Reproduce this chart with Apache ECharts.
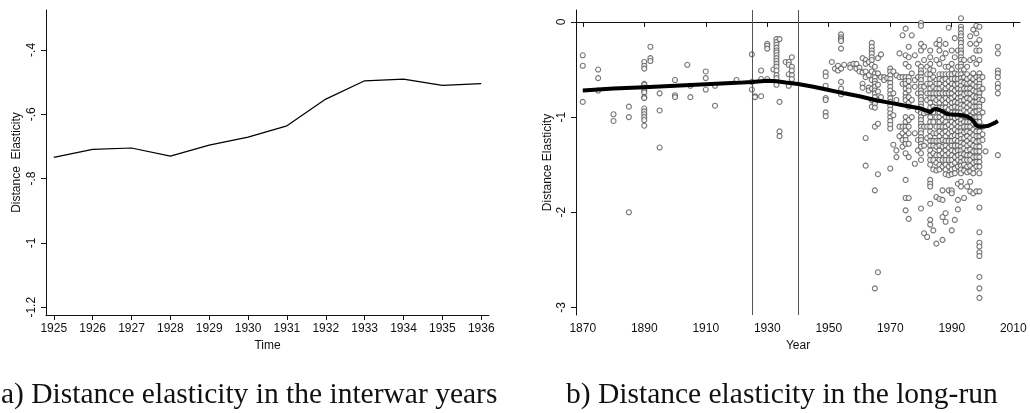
<!DOCTYPE html>
<html>
<head>
<meta charset="utf-8">
<script src="https://cdn.jsdelivr.net/npm/echarts@6/dist/echarts.min.js"></script>
<style>html,body{margin:0;padding:0;background:#fff}#c{width:1030px;height:413px}</style>
</head>
<body>
<div id="c"></div>
<script>
// Panel a: interwar years
const interwarYears = [1925,1926,1927,1928,1929,1930,1931,1932,1933,1934,1935,1936];
const interwarValues = [-0.734,-0.709,-0.705,-0.730,-0.696,-0.671,-0.636,-0.553,-0.496,-0.491,-0.510,-0.505];
const interwarYTicks = [-1.2,-1,-0.8,-0.6,-0.4];

// Panel b: long run, observations grouped by year
const obsYears = [1870,1875,1880,1885,1890,1892,1895,1900,1904,1905,1910,1913,1920,1925,1926,1928,1930,1932,1933,1934,1936,1937,1938,
  1949,1951,1952,1953,1954,1955,1957,1958,1959,1960,1961,1962,1963,1964,1965,1966,1967,1968,1969,
  1970,1971,1972,1973,1974,1975,1976,1977,1978,1979,1980,1981,1982,1983,1984,1985,1986,1987,1988,1989,
  1990,1991,1992,1993,1994,1995,1996,1997,1998,1999,2000,2001,2005];
const obsValues = [
  [-0.35,-0.46,-0.84],
  [-0.50,-0.59,-0.72],
  [-0.97,-1.04],
  [-0.89,-1.00,-2.00],
  [-0.42,-0.46,-0.49,-0.65,-0.66,-0.69,-0.72,-0.74,-0.79,-0.80,-0.91,-0.94,-0.97,-1.00,-1.03,-1.09],
  [-0.26,-0.38,-0.41],
  [-0.75,-0.93,-1.32],
  [-0.61,-0.77,-0.79],
  [-0.45],
  [-0.67,-0.79],
  [-0.52,-0.59,-0.71],
  [-0.67,-0.88],
  [-0.61],
  [-0.34,-0.63,-0.71],
  [-0.78,-0.79],
  [-0.51,-0.60,-0.78],
  [-0.23,-0.25,-0.28,-0.60],
  [-0.50],
  [-0.18,-0.21,-0.24,-0.27,-0.30,-0.32,-0.35,-0.38,-0.41,-0.44,-0.47,-0.51,-0.56,-0.59,-0.66],
  [-0.18,-0.84,-1.15,-1.20],
  [-0.42],
  [-0.42,-0.45,-0.55,-0.67],
  [-0.37,-0.47,-0.51,-0.56,-0.60],
  [-0.53,-0.57,-0.67,-0.80,-0.82,-0.95,-0.99],
  [-0.42],
  [-0.49],
  [-0.51,-0.46],
  [-0.13,-0.16,-0.18,-0.20,-0.28,-0.49,-0.63,-0.70,-0.76],
  [-0.45],
  [-0.45,-0.48],
  [-0.44],
  [-0.44,-0.49],
  [-0.48,-0.52],
  [-0.38,-0.53,-0.65,-0.69],
  [-0.40,-0.44,-0.52,-0.58,-1.22,-1.51],
  [-0.42,-0.56,-0.69,-0.72],
  [-0.22,-0.26,-0.30,-0.33,-0.37,-0.40,-0.45,-0.52,-0.61,-0.70,-0.82,-0.89],
  [-0.47,-0.54,-0.58,-0.62,-0.65,-0.68,-0.72,-0.75,-0.79,-0.83,-0.86,-0.90,-1.10,-1.77,-2.80],
  [-0.38,-0.54,-0.66,-0.73,-0.82,-1.07,-1.60,-2.63],
  [-0.34,-0.58,-0.79],
  [-0.58,-0.61],
  [-0.59],
  [-0.49,-0.52,-0.56,-0.60,-0.64,-0.68,-0.72,-0.76,-0.80,-0.84,-0.88,-0.92,-0.96,-1.00,-1.04,-1.08,-1.12,-1.54],
  [-0.52,-0.75,-0.98,-1.29],
  [-0.56,-0.82,-1.35,-1.42],
  [-0.33,-0.58,-1.10,-1.20],
  [-0.14,-0.58,-0.65,-1.10,-1.17,-1.24,-1.31],
  [-0.07,-0.35,-0.44,-0.58,-0.62,-0.65,-0.70,-0.75,-0.79,-0.82,-1.00,-1.05,-1.10,-1.14,-1.20,-1.24,-1.28,-1.38,-1.66,-1.85,-1.98],
  [-0.26,-0.37,-0.47,-0.58,-0.62,-0.68,-0.72,-0.79,-0.85,-0.89,-1.03,-1.10,-1.17,-1.28,-1.42,-1.85,-2.07],
  [-0.14,-0.54,-0.82,-1.00],
  [-0.35,-0.61,-0.68,-1.17,-1.49],
  [-0.44,-0.58,-0.75,-0.93,-1.24,-1.35],
  [-0.01,-0.04,-0.23,-0.30,-0.47,-0.51,-0.54,-0.58,-0.61,-0.65,-0.68,-0.72,-0.75,-0.79,-0.82,-0.86,-0.89,-0.93,-0.96,-1.00,-1.03,-1.07,-1.10,-1.14,-1.17,-1.21,-1.24,-1.28,-1.31,-1.38,-1.45,-1.96],
  [-0.26,-0.40,-0.68,-0.96,-1.10,-1.30,-2.22],
  [-0.47,-0.55,-0.65,-0.75,-0.82,-0.95,-1.10,-1.22,-2.26],
  [-0.30,-0.37,-0.44,-0.50,-0.55,-0.60,-0.65,-0.70,-0.75,-0.80,-0.85,-0.90,-0.95,-1.00,-1.05,-1.10,-1.15,-1.20,-1.25,-1.30,-1.35,-1.40,-1.45,-1.50,-1.66,-1.70,-1.73,-1.91,-2.08,-2.13],
  [-0.51,-0.58,-0.68,-0.75,-0.80,-0.89,-0.95,-1.05,-1.17,-1.25,-1.30,-1.38,-1.45,-1.55,-2.19],
  [-0.23,-0.40,-0.61,-0.65,-0.70,-0.75,-0.82,-0.90,-1.00,-1.10,-1.17,-1.25,-1.31,-1.40,-1.48,-1.56,-1.84,-2.33],
  [-0.19,-0.24,-0.30,-0.44,-0.55,-0.60,-0.65,-0.70,-0.75,-0.80,-0.85,-0.90,-0.95,-1.00,-1.05,-1.10,-1.15,-1.20,-1.25,-1.30,-1.35,-1.40,-1.45,-1.50,-1.55,-1.86],
  [-0.38,-0.55,-0.61,-0.68,-0.75,-0.82,-0.90,-0.97,-1.03,-1.10,-1.17,-1.24,-1.31,-1.38,-1.45,-1.52,-1.77,-1.87,-2.05,-2.29],
  [-0.23,-0.33,-0.47,-0.55,-0.60,-0.65,-0.70,-0.75,-0.80,-0.85,-0.90,-0.95,-1.00,-1.05,-1.10,-1.15,-1.20,-1.25,-1.30,-1.35,-1.40,-1.45,-1.50,-1.55,-1.60,-2.01,-2.10],
  [-0.06,-0.47,-0.55,-0.62,-0.68,-0.75,-0.82,-0.92,-1.00,-1.08,-1.17,-1.25,-1.32,-1.38,-1.45,-1.52,-1.61,-1.77],
  [-0.30,-0.44,-0.50,-0.55,-0.60,-0.65,-0.70,-0.75,-0.80,-0.85,-0.90,-0.95,-1.00,-1.05,-1.10,-1.15,-1.20,-1.25,-1.30,-1.35,-1.40,-1.45,-1.50,-1.55,-1.60,-1.77,-1.80,-2.19],
  [-0.17,-0.37,-0.54,-0.60,-0.66,-0.72,-0.78,-0.84,-0.89,-0.95,-1.01,-1.07,-1.13,-1.19,-1.24,-1.30,-1.36,-1.42,-1.48,-1.54,-1.59,-2.08],
  [-0.30,-0.47,-0.55,-0.60,-0.65,-0.70,-0.75,-0.80,-0.85,-0.90,-0.95,-1.00,-1.05,-1.10,-1.15,-1.20,-1.25,-1.30,-1.35,-1.40,-1.45,-1.52,-1.70,-1.87,-1.97],
  [0.04,-0.05,-0.08,-0.12,-0.15,-0.19,-0.22,-0.26,-0.30,-0.33,-0.37,-0.40,-0.44,-0.47,-0.51,-0.55,-0.59,-0.63,-0.67,-0.71,-0.75,-0.79,-0.83,-0.87,-0.91,-0.95,-0.99,-1.03,-1.07,-1.11,-1.15,-1.19,-1.23,-1.27,-1.31,-1.35,-1.39,-1.43,-1.47,-1.51,-1.55,-1.59,-1.68,-1.73],
  [-0.40,-0.50,-0.58,-0.64,-0.70,-0.76,-0.82,-0.88,-0.93,-0.99,-1.05,-1.10,-1.16,-1.22,-1.28,-1.33,-1.39,-1.45,-1.50,-1.56,-1.85],
  [-0.47,-0.55,-0.60,-0.65,-0.70,-0.75,-0.80,-0.85,-0.90,-0.95,-1.00,-1.05,-1.10,-1.15,-1.20,-1.25,-1.30,-1.35,-1.40,-1.45,-1.52,-1.58,-1.73],
  [-0.15,-0.23,-0.40,-0.58,-0.64,-0.70,-0.75,-0.81,-0.87,-0.93,-0.99,-1.05,-1.10,-1.16,-1.22,-1.28,-1.34,-1.40,-1.45,-1.51,-1.57,-1.68,-1.78],
  [-0.08,-0.38,-0.54,-0.60,-0.66,-0.72,-0.78,-0.84,-0.89,-0.95,-1.01,-1.07,-1.13,-1.19,-1.24,-1.30,-1.36,-1.42,-1.48,-1.54,-1.59,-1.80],
  [-0.04,-0.12,-0.23,-0.30,-0.44,-0.58,-0.63,-0.68,-0.73,-0.79,-0.84,-0.89,-0.94,-1.00,-1.05,-1.10,-1.15,-1.20,-1.26,-1.31,-1.36,-1.42,-1.47,-1.52,-1.78],
  [-0.05,-0.19,-0.30,-0.40,-0.54,-0.58,-0.61,-0.65,-0.68,-0.72,-0.75,-0.79,-0.82,-0.86,-0.89,-0.93,-0.97,-1.00,-1.05,-1.10,-1.15,-1.20,-1.25,-1.31,-1.36,-1.42,-1.47,-1.52,-1.59,-1.78,-1.95,-2.21,-2.32,-2.36,-2.42,-2.46,-2.68,-2.80,-2.90],
  [-0.58,-0.70,-0.82,-0.95,-1.10,-1.18,-1.24],
  [-1.36],
  [-0.26,-0.33,-0.51,-0.54,-0.58,-0.65,-0.69,-0.75,-1.40]
];
// Smoothed (lowess) trend
const trendYears = [1870,1880,1890,1900,1910,1920,1925,1930,1933,1936,1940,1945,1950,1955,1960,1965,1970,1975,1980,1982,1983,1984,1985,1986,1987,1988,1989,1990,1991,1992,1993,1994,1995,1996,1997,1998,1999,2000,2001,2002,2003,2004,2005];
const trendValues = [-0.72,-0.70,-0.685,-0.67,-0.655,-0.64,-0.63,-0.617,-0.622,-0.635,-0.652,-0.68,-0.715,-0.75,-0.78,-0.82,-0.85,-0.88,-0.91,-0.935,-0.95,-0.92,-0.915,-0.925,-0.94,-0.96,-0.97,-0.972,-0.975,-0.975,-0.98,-0.985,-0.995,-1.01,-1.04,-1.09,-1.10,-1.10,-1.095,-1.09,-1.075,-1.06,-1.04];
const periodMarks = [1925, 1940];
const longYearTicks = [1870,1890,1910,1930,1950,1970,1990,2010];
const longValueTicks = [-3,-2,-1,0];
const captions = ['a) Distance elasticity in the interwar years', 'b) Distance elasticity in the long-run'];

const scatterData = [];
obsYears.forEach((y, i) => obsValues[i].forEach(v => scatterData.push([y, v])));
const trendData = trendYears.map((y, i) => [y, trendValues[i]]);
const interwarData = interwarYears.map((y, i) => [y, interwarValues[i]]);

const fmt = v => {
  if (v === 0) return '0';
  let s = String(Math.round(v * 10) / 10);
  return s.replace(/^(-?)0\./, '$1.');
};
const tickFont = { fontFamily: 'Liberation Sans, Arial, sans-serif', fontSize: 12, color: '#111' };
const axisCommon = {
  axisLine: { show: true, lineStyle: { color: '#111', width: 1 } },
  axisTick: { show: true, length: 5, lineStyle: { color: '#111' } },
  splitLine: { show: false },
  nameTextStyle: { fontFamily: 'Liberation Sans, Arial, sans-serif', fontSize: 12, color: '#111' }
};

const chart = echarts.init(document.getElementById('c'), null, { renderer: 'canvas' });
chart.setOption({
  animation: false,
  backgroundColor: '#fff',
  grid: [
    { left: 46, right: 541, top: 10, bottom: 98 },
    { left: 576, right: 10, top: 10, bottom: 98 }
  ],
  xAxis: [
    Object.assign({}, axisCommon, {
      gridIndex: 0, type: 'value', min: 1924.8, max: 1936.2,
      name: 'Time', nameLocation: 'middle', nameGap: 22,
      axisTick: { show: true, length: 5, lineStyle: { color: '#111' }, customValues: interwarYears },
      axisLabel: Object.assign({ margin: 8, customValues: interwarYears, formatter: v => String(v) }, tickFont)
    }),
    Object.assign({}, axisCommon, {
      gridIndex: 1, type: 'value', min: 1867.8, max: 2012.2,
      name: 'Year', nameLocation: 'middle', nameGap: 22,
      axisTick: { show: true, length: 5, lineStyle: { color: '#111' }, customValues: longYearTicks },
      axisLabel: Object.assign({ margin: 8, customValues: longYearTicks, formatter: v => String(v) }, tickFont)
    })
  ],
  yAxis: [
    Object.assign({}, axisCommon, {
      gridIndex: 0, type: 'value', min: -1.224, max: -0.276,
      name: 'Distance  Elasticity', nameLocation: 'middle', nameGap: 23,
      axisTick: { show: true, length: 5, lineStyle: { color: '#111' }, customValues: interwarYTicks },
      axisLabel: Object.assign({ margin: 8, rotate: 90, customValues: interwarYTicks, formatter: fmt }, tickFont)
    }),
    Object.assign({}, axisCommon, {
      gridIndex: 1, type: 'value', min: -3.08, max: 0.126,
      name: 'Distance Elasticity', nameLocation: 'middle', nameGap: 22,
      axisTick: { show: true, length: 5, lineStyle: { color: '#111' }, customValues: longValueTicks },
      axisLabel: Object.assign({ margin: 8, rotate: 90, customValues: longValueTicks, formatter: fmt }, tickFont)
    })
  ],
  series: [
    {
      type: 'line', xAxisIndex: 0, yAxisIndex: 0, data: interwarData,
      symbol: 'none', lineStyle: { color: '#000', width: 1.2 }
    },
    {
      type: 'scatter', xAxisIndex: 1, yAxisIndex: 1, data: scatterData,
      symbol: 'circle', symbolSize: 5,
      itemStyle: { color: '#fff', borderColor: '#555', borderWidth: 1.1 },
      markLine: {
        silent: true, symbol: 'none', label: { show: false },
        lineStyle: { color: '#555', width: 1, type: 'solid' },
        data: periodMarks.map(x => ({ xAxis: x }))
      },
      z: 2
    },
    {
      type: 'line', xAxisIndex: 1, yAxisIndex: 1, data: trendData,
      symbol: 'none', lineStyle: { color: '#000', width: 4 }, z: 5
    }
  ],
  graphic: [
    { type: 'text', left: 1, top: 380, style: { text: captions[0], font: '29.5px "Liberation Serif", serif', fill: '#111' } },
    { type: 'text', left: 566, top: 380, style: { text: captions[1], font: '29.5px "Liberation Serif", serif', fill: '#111' } }
  ]
});
</script>
</body>
</html>
